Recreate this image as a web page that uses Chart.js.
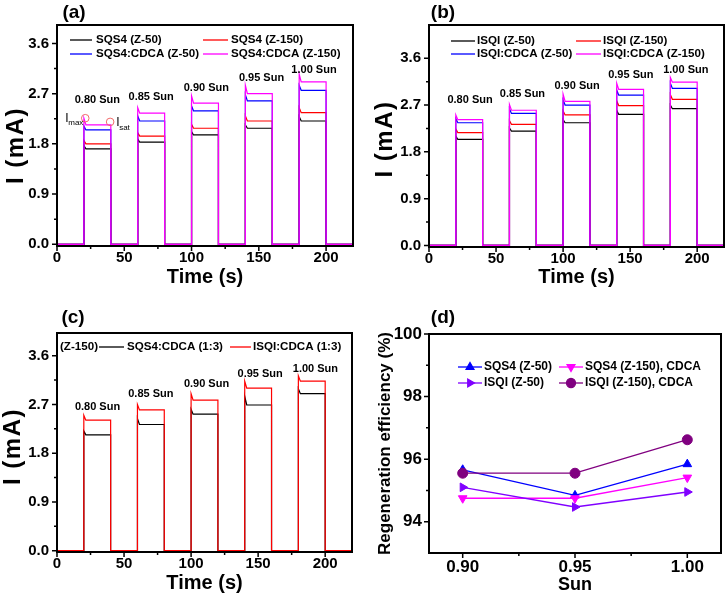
<!DOCTYPE html>
<html><head><meta charset="utf-8">
<script src="https://cdn.jsdelivr.net/npm/chart.js@4.4.0/dist/chart.umd.min.js"></script>
<style>
html,body{margin:0;padding:0;background:#fff;}
#wrap{position:relative;width:727px;height:600px;overflow:hidden;background:#fff;}
canvas{position:absolute;}
</style></head><body>
<div id="wrap">
<canvas id="ca" width="363" height="300" style="left:0;top:0"></canvas>
<canvas id="cb" width="364" height="300" style="left:363px;top:0"></canvas>
<canvas id="cc" width="363" height="300" style="left:0;top:300px"></canvas>
<canvas id="cd" width="364" height="300" style="left:363px;top:300px"></canvas>
</div>
<script>
const FONT = "'Liberation Sans', Arial, Helvetica, sans-serif";
Chart.defaults.font.family = FONT;
Chart.defaults.color = '#000';

// ---------- shared axis data ----------
const pulseOn  = [20, 60, 100, 140, 180];
const pulseOff = [40, 80, 120, 160, 200];
const timeEnd = 220;
const sunText = ['0.80 Sun', '0.85 Sun', '0.90 Sun', '0.95 Sun', '1.00 Sun'];
const timeTicks = [0, 50, 100, 150, 200];
const timeMinorTicks = [25, 75, 125, 175];
const currentTicks = [0, 0.9, 1.8, 2.7, 3.6];
const currentMinorTicks = [0.45, 1.35, 2.25, 3.15];

// ---------- panel (a) : SQS4 ----------
const aNames = ['SQS4 (Z-50)', 'SQS4 (Z-150)', 'SQS4:CDCA (Z-50)', 'SQS4:CDCA (Z-150)'];
const aZ50Peak      = [1.77, 1.89, 2.02, 2.14, 2.29];
const aZ50Sat       = [1.71, 1.83, 1.96, 2.08, 2.21];
const aZ150Peak     = [1.86, 2.00, 2.15, 2.30, 2.45];
const aZ150Sat      = [1.80, 1.94, 2.08, 2.21, 2.36];
const aCdcaZ50Peak  = [2.12, 2.30, 2.48, 2.68, 2.85];
const aCdcaZ50Sat   = [2.05, 2.21, 2.39, 2.57, 2.76];
const aCdcaZ150Peak = [2.26, 2.45, 2.66, 2.85, 3.05];
const aCdcaZ150Sat  = [2.14, 2.35, 2.53, 2.70, 2.91];

// ---------- panel (b) : ISQI ----------
const bNames = ['ISQI (Z-50)', 'ISQI (Z-150)', 'ISQI:CDCA (Z-50)', 'ISQI:CDCA (Z-150)'];
const bZ50Peak      = [2.10, 2.26, 2.42, 2.60, 2.70];
const bZ50Sat       = [2.04, 2.20, 2.36, 2.52, 2.63];
const bZ150Peak     = [2.24, 2.40, 2.59, 2.78, 2.90];
const bZ150Sat      = [2.17, 2.33, 2.51, 2.69, 2.81];
const bCdcaZ50Peak  = [2.44, 2.63, 2.80, 2.99, 3.12];
const bCdcaZ50Sat   = [2.36, 2.54, 2.70, 2.89, 3.02];
const bCdcaZ150Peak = [2.51, 2.71, 2.91, 3.12, 3.23];
const bCdcaZ150Sat  = [2.42, 2.60, 2.77, 3.00, 3.14];

// ---------- panel (c) : Z-150, dye:CDCA (1:3) ----------
const cNames = ['SQS4:CDCA (1:3)', 'ISQI:CDCA (1:3)'];
const cSqs4Peak = [2.21, 2.44, 2.61, 2.85, 2.99];
const cSqs4Sat  = [2.14, 2.33, 2.52, 2.69, 2.90];
const cIsqiPeak = [2.50, 2.70, 2.90, 3.13, 3.23];
const cIsqiSat  = [2.41, 2.60, 2.78, 3.00, 3.13];

// ---------- panel (d) : regeneration efficiency ----------
const dSun = [0.90, 0.95, 1.00];
const dNames = ['SQS4 (Z-50)', 'SQS4 (Z-150), CDCA', 'ISQI (Z-50)', 'ISQI (Z-150), CDCA'];
const dSqs4Z50      = [95.66, 94.84, 95.84];
const dSqs4Z150Cdca = [94.75, 94.75, 95.41];
const dIsqiZ50      = [95.10, 94.47, 94.95];
const dIsqiZ150Cdca = [95.55, 95.55, 96.62];
const sunTicks = [0.90, 0.95, 1.00];
const sunMinorTicks = [0.925, 0.975];
const effTicks = [94, 96, 98, 100];
const effMinorTicks = [95, 97, 99];

// ---------- helpers ----------
function trace(peak, sat) {
  const pts = [{x: 0, y: 0}];
  pulseOn.forEach((on, i) => {
    const off = pulseOff[i];
    pts.push({x: on, y: 0}, {x: on, y: peak[i]}, {x: on + 1.5, y: sat[i]},
             {x: off, y: sat[i]}, {x: off, y: 0});
  });
  pts.push({x: timeEnd, y: 0});
  return pts;
}
function tickSetter(major, minor) {
  return scale => {
    scale.ticks = major.map(v => ({value: v, major: true}))
      .concat(minor.map(v => ({value: v, major: false})))
      .sort((a, b) => a.value - b.value);
  };
}
function fixedW(w) { return s => { s.width = w; }; }
function fixedH(h) { return s => { s.height = h; }; }

const decor = {
  id: 'decor',
  afterDraw(chart, args, o) {
    const {ctx, chartArea: ca, scales} = chart;
    const xs = scales.x, ys = scales.y;
    ctx.save();
    ctx.strokeStyle = '#000';
    ctx.lineWidth = 1.5;
    ctx.beginPath();
    xs.ticks.forEach(t => {
      const px = xs.getPixelForValue(t.value);
      ctx.moveTo(px, ca.bottom); ctx.lineTo(px, ca.bottom + (t.major ? 5 : 3));
    });
    ys.ticks.forEach(t => {
      const py = ys.getPixelForValue(t.value);
      ctx.moveTo(ca.left, py); ctx.lineTo(ca.left - (t.major ? 5 : 3), py);
    });
    ctx.stroke();
    ctx.lineWidth = 2;
    ctx.strokeRect(ca.left, ca.top, ca.right - ca.left, ca.bottom - ca.top);

    ctx.fillStyle = '#000';
    ctx.textAlign = 'center';
    ctx.textBaseline = 'middle';
    ctx.font = 'bold 19px ' + FONT;
    ctx.fillText(o.letter, o.letterX, o.letterY);

    ctx.font = o.xTitleFont;
    ctx.fillText(o.xTitle, (ca.left + ca.right) / 2, ca.bottom + o.xTitleGap);

    ctx.save();
    ctx.translate(ca.left - o.yTitleGap, (ca.top + ca.bottom) / 2 + o.yTitleShift);
    ctx.rotate(-Math.PI / 2);
    ctx.font = o.yTitleFont;
    if (o.yTitleSpacing) ctx.letterSpacing = o.yTitleSpacing;
    ctx.fillText(o.yTitle, 0, 0);
    ctx.restore();

    if (o.sunPos) {
      ctx.font = 'bold 11px ' + FONT;
      o.sunPos.forEach((p, i) => {
        ctx.fillText(sunText[i], xs.getPixelForValue(p[0]), ys.getPixelForValue(p[1]));
      });
    }

    // legend
    const lg = o.legend;
    ctx.font = lg.font;
    ctx.textAlign = 'left';
    if (lg.prefix) ctx.fillText(lg.prefix.text, lg.prefix.x, lg.prefix.y);
    lg.items.forEach((it, i) => {
      const ds = chart.data.datasets[i];
      ctx.strokeStyle = ds.borderColor;
      ctx.lineWidth = 1.3;
      ctx.beginPath(); ctx.moveTo(it.x1, it.y); ctx.lineTo(it.x2, it.y); ctx.stroke();
      if (lg.markers) {
        ctx.fillStyle = ds.backgroundColor;
        ctx.strokeStyle = ds.borderColor;
        Chart.helpers.drawPoint(ctx, {pointStyle: ds.pointStyle, rotation: ds.rotation || 0,
          radius: 4.5, borderWidth: 1}, (it.x1 + it.x2) / 2, it.y);
      }
      ctx.fillStyle = '#000';
      ctx.fillText(ds.label, it.tx, it.y);
    });

    if (o.satMarks) {
      const p1 = {x: xs.getPixelForValue(pulseOn[0] + 1), y: ys.getPixelForValue(aCdcaZ150Peak[0])};
      const p2 = {x: xs.getPixelForValue(pulseOff[0] - 0.5), y: ys.getPixelForValue(aCdcaZ150Sat[0]) - 3};
      ctx.strokeStyle = '#f06a6a'; ctx.lineWidth = 1;
      [p1, p2].forEach(p => { ctx.beginPath(); ctx.arc(p.x, p.y, 3.8, 0, Math.PI * 2); ctx.stroke(); });
      ctx.fillStyle = '#000';
      ctx.textAlign = 'left';
      ctx.font = '12px ' + FONT;
      ctx.fillText('I', p1.x - 20, p1.y);
      ctx.font = '8px ' + FONT;
      ctx.fillText('max', p1.x - 17, p1.y + 5);
      ctx.font = '12px ' + FONT;
      ctx.fillText('I', p2.x + 6, p2.y + 1);
      ctx.font = '8px ' + FONT;
      ctx.fillText('sat', p2.x + 9, p2.y + 6);
    }
    ctx.restore();
  }
};

function transientDatasets(names, colors, peaks, sats, orders) {
  return names.map((n, i) => ({
    label: n, data: trace(peaks[i], sats[i]), borderColor: colors[i], backgroundColor: colors[i],
    borderWidth: 1.2, pointRadius: 0, showLine: true, order: orders[i]
  }));
}

function transientChart(id, datasets, yMin, yMax, lay, deco) {
  return new Chart(document.getElementById(id), {
    type: 'scatter',
    data: {datasets},
    options: {
      responsive: false, animation: false, events: [],
      layout: {padding: {left: 0, top: lay.top, right: lay.right, bottom: 0}},
      plugins: {legend: {display: false}, tooltip: {enabled: false}, title: {display: false}, decor: deco},
      scales: {
        x: {
          type: 'linear', min: 0, max: timeEnd,
          grid: {display: false, drawTicks: false}, border: {display: false},
          afterBuildTicks: tickSetter(timeTicks, timeMinorTicks),
          afterFit: fixedH(lay.bottom),
          ticks: {autoSkip: false, maxRotation: 0, padding: 3, color: '#000',
            font: {size: 15, weight: 'bold'},
            callback: (v, i, t) => t[i].major ? String(v) : ''}
        },
        y: {
          type: 'linear', min: yMin, max: yMax,
          grid: {display: false, drawTicks: false}, border: {display: false},
          afterBuildTicks: tickSetter(currentTicks, currentMinorTicks),
          afterFit: fixedW(lay.left),
          ticks: {autoSkip: false, padding: 8, color: '#000',
            font: {size: 15, weight: 'bold'},
            callback: (v, i, t) => t[i].major ? v.toFixed(1) : ''}
        }
      }
    },
    plugins: [decor]
  });
}

const IFONT = 'bold 24px ' + FONT;
const TFONT = 'bold 20px ' + FONT;
const LFONT = 'bold 11.6px ' + FONT;

// (a)
transientChart('ca',
  transientDatasets(aNames, ['#000000', '#ff0000', '#0000ff', '#ff00ff'],
    [aZ50Peak, aZ150Peak, aCdcaZ50Peak, aCdcaZ150Peak],
    [aZ50Sat, aZ150Sat, aCdcaZ50Sat, aCdcaZ150Sat], [3, 2, 1, 0]),
  -0.03, 3.93, {left: 57, top: 25, right: 10, bottom: 54},
  {letter: '(a)', letterX: 74, letterY: 13,
   xTitle: 'Time (s)', xTitleFont: TFONT, xTitleGap: 31,
   yTitle: 'I (mA)', yTitleFont: IFONT, yTitleSpacing: '1.5px', yTitleGap: 41, yTitleShift: 10,
   sunPos: [[30, 2.58], [70, 2.64], [111, 2.80], [152, 2.98], [191, 3.13]],
   satMarks: true,
   legend: {font: LFONT, items: [
     {x1: 70, x2: 92, tx: 96, y: 40}, {x1: 203, x2: 228, tx: 231, y: 40},
     {x1: 70, x2: 92, tx: 96, y: 54}, {x1: 203, x2: 228, tx: 231, y: 54}]}});

// (b)
transientChart('cb',
  transientDatasets(bNames, ['#000000', '#ff0000', '#0000ff', '#ff00ff'],
    [bZ50Peak, bZ150Peak, bCdcaZ50Peak, bCdcaZ150Peak],
    [bZ50Sat, bZ150Sat, bCdcaZ50Sat, bCdcaZ150Sat], [3, 2, 1, 0]),
  -0.03, 4.24, {left: 66, top: 25, right: 3, bottom: 53},
  {letter: '(b)', letterX: 80, letterY: 13,
   xTitle: 'Time (s)', xTitleFont: TFONT, xTitleGap: 30,
   yTitle: 'I (mA)', yTitleFont: IFONT, yTitleSpacing: '1.5px', yTitleGap: 44, yTitleShift: 3,
   sunPos: [[30.6, 2.80], [69.7, 2.91], [110.4, 3.07], [150.5, 3.28], [191.5, 3.37]],
   legend: {font: LFONT, items: [
     {x1: 88, x2: 112, tx: 114, y: 41}, {x1: 213, x2: 238, tx: 240, y: 41},
     {x1: 88, x2: 112, tx: 114, y: 54}, {x1: 213, x2: 238, tx: 240, y: 54}]}});

// (c)
transientChart('cc',
  transientDatasets(cNames, ['#000000', '#ff0000'],
    [cSqs4Peak, cIsqiPeak], [cSqs4Sat, cIsqiSat], [1, 0]),
  -0.025, 4.02, {left: 57, top: 33, right: 11, bottom: 48},
  {letter: '(c)', letterX: 73, letterY: 18,
   xTitle: 'Time (s)', xTitleFont: TFONT, xTitleGap: 31,
   yTitle: 'I (mA)', yTitleFont: IFONT, yTitleSpacing: '1.5px', yTitleGap: 44, yTitleShift: 4,
   sunPos: [[30.2, 2.66], [70, 2.90], [111.5, 3.07], [151.5, 3.26], [192.7, 3.36]],
   legend: {font: LFONT, prefix: {text: '(Z-150)', x: 60, y: 47}, items: [
     {x1: 99, x2: 124, tx: 127, y: 47}, {x1: 230, x2: 251, tx: 253, y: 47}]}});

// (d)
const dColors = ['#0000ff', '#ff00ff', '#8000ff', '#800080'];
const dStyles = [['triangle', 0], ['triangle', 180], ['triangle', 90], ['circle', 0]];
const dSeries = [dSqs4Z50, dSqs4Z150Cdca, dIsqiZ50, dIsqiZ150Cdca];
new Chart(document.getElementById('cd'), {
  type: 'scatter',
  data: {datasets: dNames.map((n, i) => ({
    label: n, data: dSun.map((s, k) => ({x: s, y: dSeries[i][k]})),
    borderColor: dColors[i], backgroundColor: dColors[i], borderWidth: 1.3,
    showLine: true, pointStyle: dStyles[i][0], rotation: dStyles[i][1],
    pointRadius: 5, pointBorderWidth: 1, order: 3 - i
  }))},
  options: {
    responsive: false, animation: false, events: [],
    layout: {padding: {left: 0, top: 34, right: 4, bottom: 0}},
    plugins: {legend: {display: false}, tooltip: {enabled: false}, title: {display: false},
      decor: {letter: '(d)', letterX: 80, letterY: 18,
        xTitle: 'Sun', xTitleFont: 'bold 18px ' + FONT, xTitleGap: 32,
        yTitle: 'Regeneration efficiency (%)', yTitleFont: 'bold 17px ' + FONT, yTitleGap: 44, yTitleShift: 0,
        legend: {font: 'bold 12px ' + FONT, markers: true, items: [
          {x1: 95, x2: 119, tx: 121, y: 67}, {x1: 196, x2: 220, tx: 222, y: 67},
          {x1: 95, x2: 119, tx: 121, y: 83}, {x1: 196, x2: 220, tx: 222, y: 83}]}}},
    scales: {
      x: {
        type: 'linear', min: 0.885, max: 1.015,
        grid: {display: false, drawTicks: false}, border: {display: false},
        afterBuildTicks: tickSetter(sunTicks, sunMinorTicks),
        afterFit: fixedH(47),
        ticks: {autoSkip: false, maxRotation: 0, padding: 4, color: '#000',
          font: {size: 17, weight: 'bold'},
          callback: (v, i, t) => t[i].major ? v.toFixed(2) : ''}
      },
      y: {
        type: 'linear', min: 93, max: 100,
        grid: {display: false, drawTicks: false}, border: {display: false},
        afterBuildTicks: tickSetter(effTicks, effMinorTicks),
        afterFit: fixedW(66),
        ticks: {autoSkip: false, padding: 7, color: '#000',
          font: {size: 17, weight: 'bold'},
          callback: (v, i, t) => t[i].major ? String(v) : ''}
      }
    }
  },
  plugins: [decor]
});
</script>
</body></html>
